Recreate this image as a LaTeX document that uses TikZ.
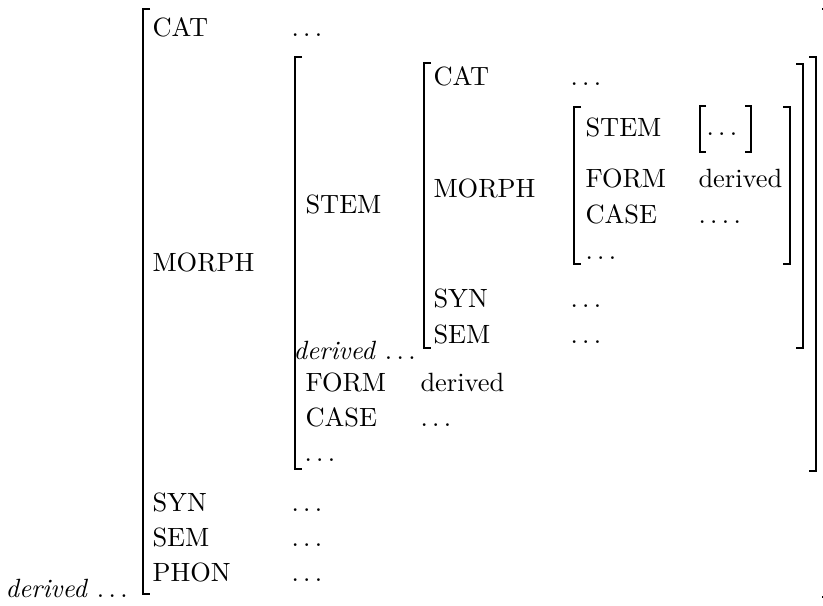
\documentclass[tikz,border=0pt]{standalone}
\begin{document}
\begin{tikzpicture}[x=0.3788pt,y=-0.3788pt,
  t/.style={inner sep=0pt, anchor=base west},
  brk/.style={line width=0.45pt}]
\useasboundingbox (0,0) rectangle (823,605);
% brackets
\draw[brk] (150,9) -- (143,9) -- (143,594) -- (150,594);
\draw[brk] (822,9) -- (829,9) -- (829,597) -- (822,597);
\draw[brk] (302,57) -- (295,57) -- (295,469) -- (302,469);
\draw[brk] (809,57) -- (816,57) -- (816,471) -- (809,471);
\draw[brk] (431,63) -- (424,63) -- (424,348) -- (431,348);
\draw[brk] (796,64) -- (803,64) -- (803,348) -- (796,348);
\draw[brk] (581,107) -- (574,107) -- (574,264) -- (581,264);
\draw[brk] (783,107) -- (790,107) -- (790,264) -- (783,264);
\draw[brk] (706,106) -- (700,106) -- (700,152) -- (706,152);
\draw[brk] (745,106) -- (751,106) -- (751,152) -- (745,152);
% outer level
\node[t] (cat1) at (152,36) {CAT};
\node[t] (catv1) at (291,36) {$\ldots$};
\node[t] (morph1) at (152,271) {MORPH};
\node[t] (syn1) at (152,511) {SYN};
\node[t] (synv1) at (291,511) {$\ldots$};
\node[t] (sem1) at (152,546) {SEM};
\node[t] (semv1) at (291,546) {$\ldots$};
\node[t] (phon1) at (152,581) {PHON};
\node[t] (phonv1) at (291,581) {$\ldots$};
\node[t] (der1) at (5,597) {\textit{derived} $\ldots$};
% level 2
\node[t] (stem2) at (305,213) {STEM};
\node[t] (der2) at (293,359) {\textit{derived} $\ldots$};
\node[t] (form2) at (305,391) {FORM};
\node[t] (formv2) at (420,391) {derived};
\node[t] (case2) at (305,426) {CASE};
\node[t] (casev2) at (420,426) {$\ldots$};
\node[t] (etc2) at (304,461) {$\ldots$};
% level 3
\node[t] (cat3) at (433,85) {CAT};
\node[t] (catv3) at (570,85) {$\ldots$};
\node[t] (morph3) at (433,197) {MORPH};
\node[t] (syn3) at (433,307) {SYN};
\node[t] (synv3) at (570,307) {$\ldots$};
\node[t] (sem3) at (433,343) {SEM};
\node[t] (semv3) at (570,343) {$\ldots$};
% level 4
\node[t] (stem4) at (585,136) {STEM};
\node[t] (stemv4) at (706,135) {$\ldots$};
\node[t] (form4) at (585,187) {FORM};
\node[t] (formv4) at (698,187) {derived};
\node[t] (case4) at (585,223) {CASE};
\node[t] (casev4) at (698,223) {$.\,.\,.\,.$};
\node[t] (etc4) at (585,259) {$\ldots$};
\end{tikzpicture}
\end{document}
